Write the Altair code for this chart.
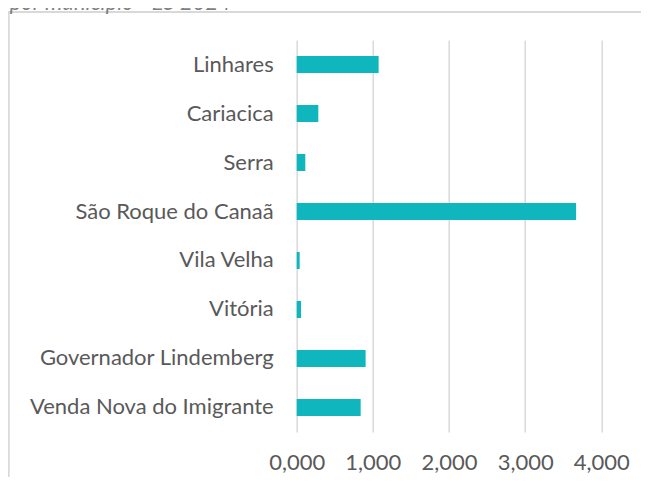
import altair as alt
import pandas as pd

municipios = [
    "Linhares",
    "Cariacica",
    "Serra",
    "São Roque do Canaã",
    "Vila Velha",
    "Vitória",
    "Governador Lindemberg",
    "Venda Nova do Imigrante",
]
valores = [1.076, 0.284, 0.113, 3.669, 0.039, 0.057, 0.905, 0.840]
x_ticks = [0, 1, 2, 3, 4]
titulo = "por município - ES 2024"

df = pd.DataFrame({"municipio": municipios, "valor": valores})

FONT = "Lato"
LABEL_COLOR = "#595959"
GRID = "#d9d9d9"

bars = alt.Chart(df).mark_bar(color="#0fb6bd").encode(
    x=alt.X(
        "valor:Q",
        scale=alt.Scale(domain=[0, 4], nice=False),
        axis=alt.Axis(
            values=x_ticks,
            labelExpr="replace(format(datum.value, '.3f'), '.', ',')",
            grid=True,
            gridColor=GRID,
            gridWidth=1.5,
            domain=False,
            ticks=False,
            labelFont=FONT,
            labelFontSize=22,
            labelColor=LABEL_COLOR,
            labelBaseline="middle",
            labelPadding=31,
            labelOverlap=False,
            labelFlush=False,
            title=None,
        ),
    ),
    y=alt.Y(
        "municipio:N",
        sort=municipios,
        scale=alt.Scale(paddingInner=0.653, paddingOuter=0.3265),
        axis=alt.Axis(
            domain=False,
            ticks=False,
            grid=False,
            labelFont=FONT,
            labelFontSize=22,
            labelColor=LABEL_COLOR,
            labelPadding=23.5,
            labelLimit=400,
            labelOverlap=False,
            title=None,
        ),
    ),
)

one = alt.Data(values=[{"t": titulo}])

frame_left = alt.Chart(one).mark_rule(color=GRID, strokeWidth=2).encode(
    x=alt.value(-288), y=alt.value(-28), y2=alt.value(437)
)
frame_top = alt.Chart(one).mark_rule(color=GRID, strokeWidth=2).encode(
    x=alt.value(-289), x2=alt.value(358), y=alt.value(-28)
)
title_text = alt.Chart(one).mark_text(
    align="left", baseline="alphabetic", font=FONT, fontSize=22,
    fontStyle="italic", color="#7f7f7f"
).encode(x=alt.value(-287), y=alt.value(-30), text="t:N")

chart = alt.layer(frame_left, frame_top, bars, title_text).properties(
    width=304.6,
    height=392,
    autosize=alt.AutoSizeParams(type="none"),
    padding={"left": 288.7, "top": 32, "right": 40, "bottom": 45},
).configure_view(stroke=None)

chart.save("out.html", embed_options={"renderer": "svg", "actions": False})
